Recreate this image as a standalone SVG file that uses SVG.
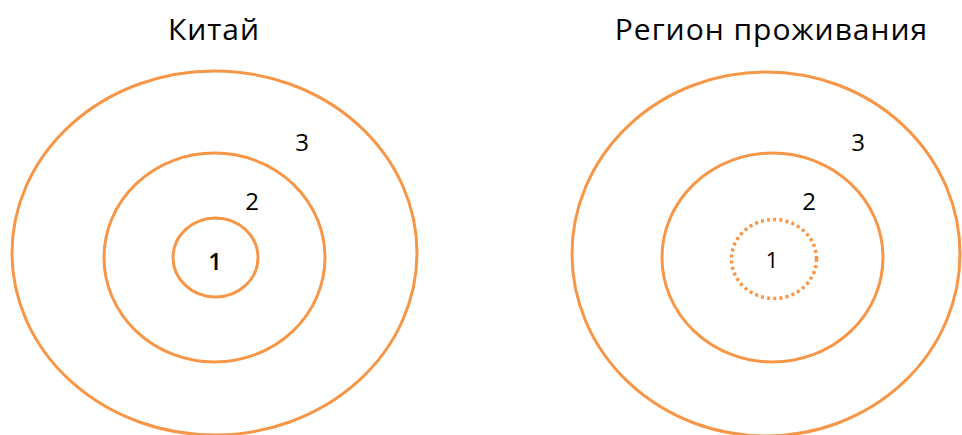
<svg xmlns="http://www.w3.org/2000/svg" width="962" height="435" viewBox="0 0 962 435">
<style>
.ring{fill:none;stroke:#F79646;stroke-width:3}
.dot{fill:none;stroke:#F79646;stroke-width:3.5;stroke-dasharray:3 3.2}
.title{font-family:"Open Sans","Noto Sans",sans-serif;font-size:30px;fill:#000;text-anchor:middle;letter-spacing:1px}
.num{font-family:"Open Sans","Noto Sans",sans-serif;font-size:24px;fill:#000;text-anchor:middle}
</style>
<rect width="962" height="435" fill="#fff"/>
<g id="china">
<text class="title" x="214" y="40">Китай</text>
<ellipse id="china-3" class="ring" cx="214.5" cy="253" rx="202.5" ry="182"/>
<ellipse id="china-2" class="ring" cx="214.5" cy="257.5" rx="110.5" ry="104.5"/>
<ellipse id="china-1" class="ring" cx="215.5" cy="257.5" rx="42.5" ry="39.5"/>
<text class="num" x="302" y="151">3</text>
<text class="num" x="252" y="210">2</text>
<text class="num" x="215" y="270" style="font-weight:600">1</text>
</g>
<g id="region">
<text class="title" x="771.5" y="40">Регион проживания</text>
<ellipse id="region-3" class="ring" cx="766" cy="254" rx="194" ry="182"/>
<ellipse id="region-2" class="ring" cx="772.5" cy="257.5" rx="110.5" ry="104.5"/>
<ellipse id="region-1" class="dot" cx="774" cy="259" rx="42.5" ry="39.5"/>
<text class="num" x="858" y="151">3</text>
<text class="num" x="809" y="210">2</text>
<text class="num" x="772" y="268" style="font-size:22px">1</text>
</g>
<g id="connectors"/>
</svg>
